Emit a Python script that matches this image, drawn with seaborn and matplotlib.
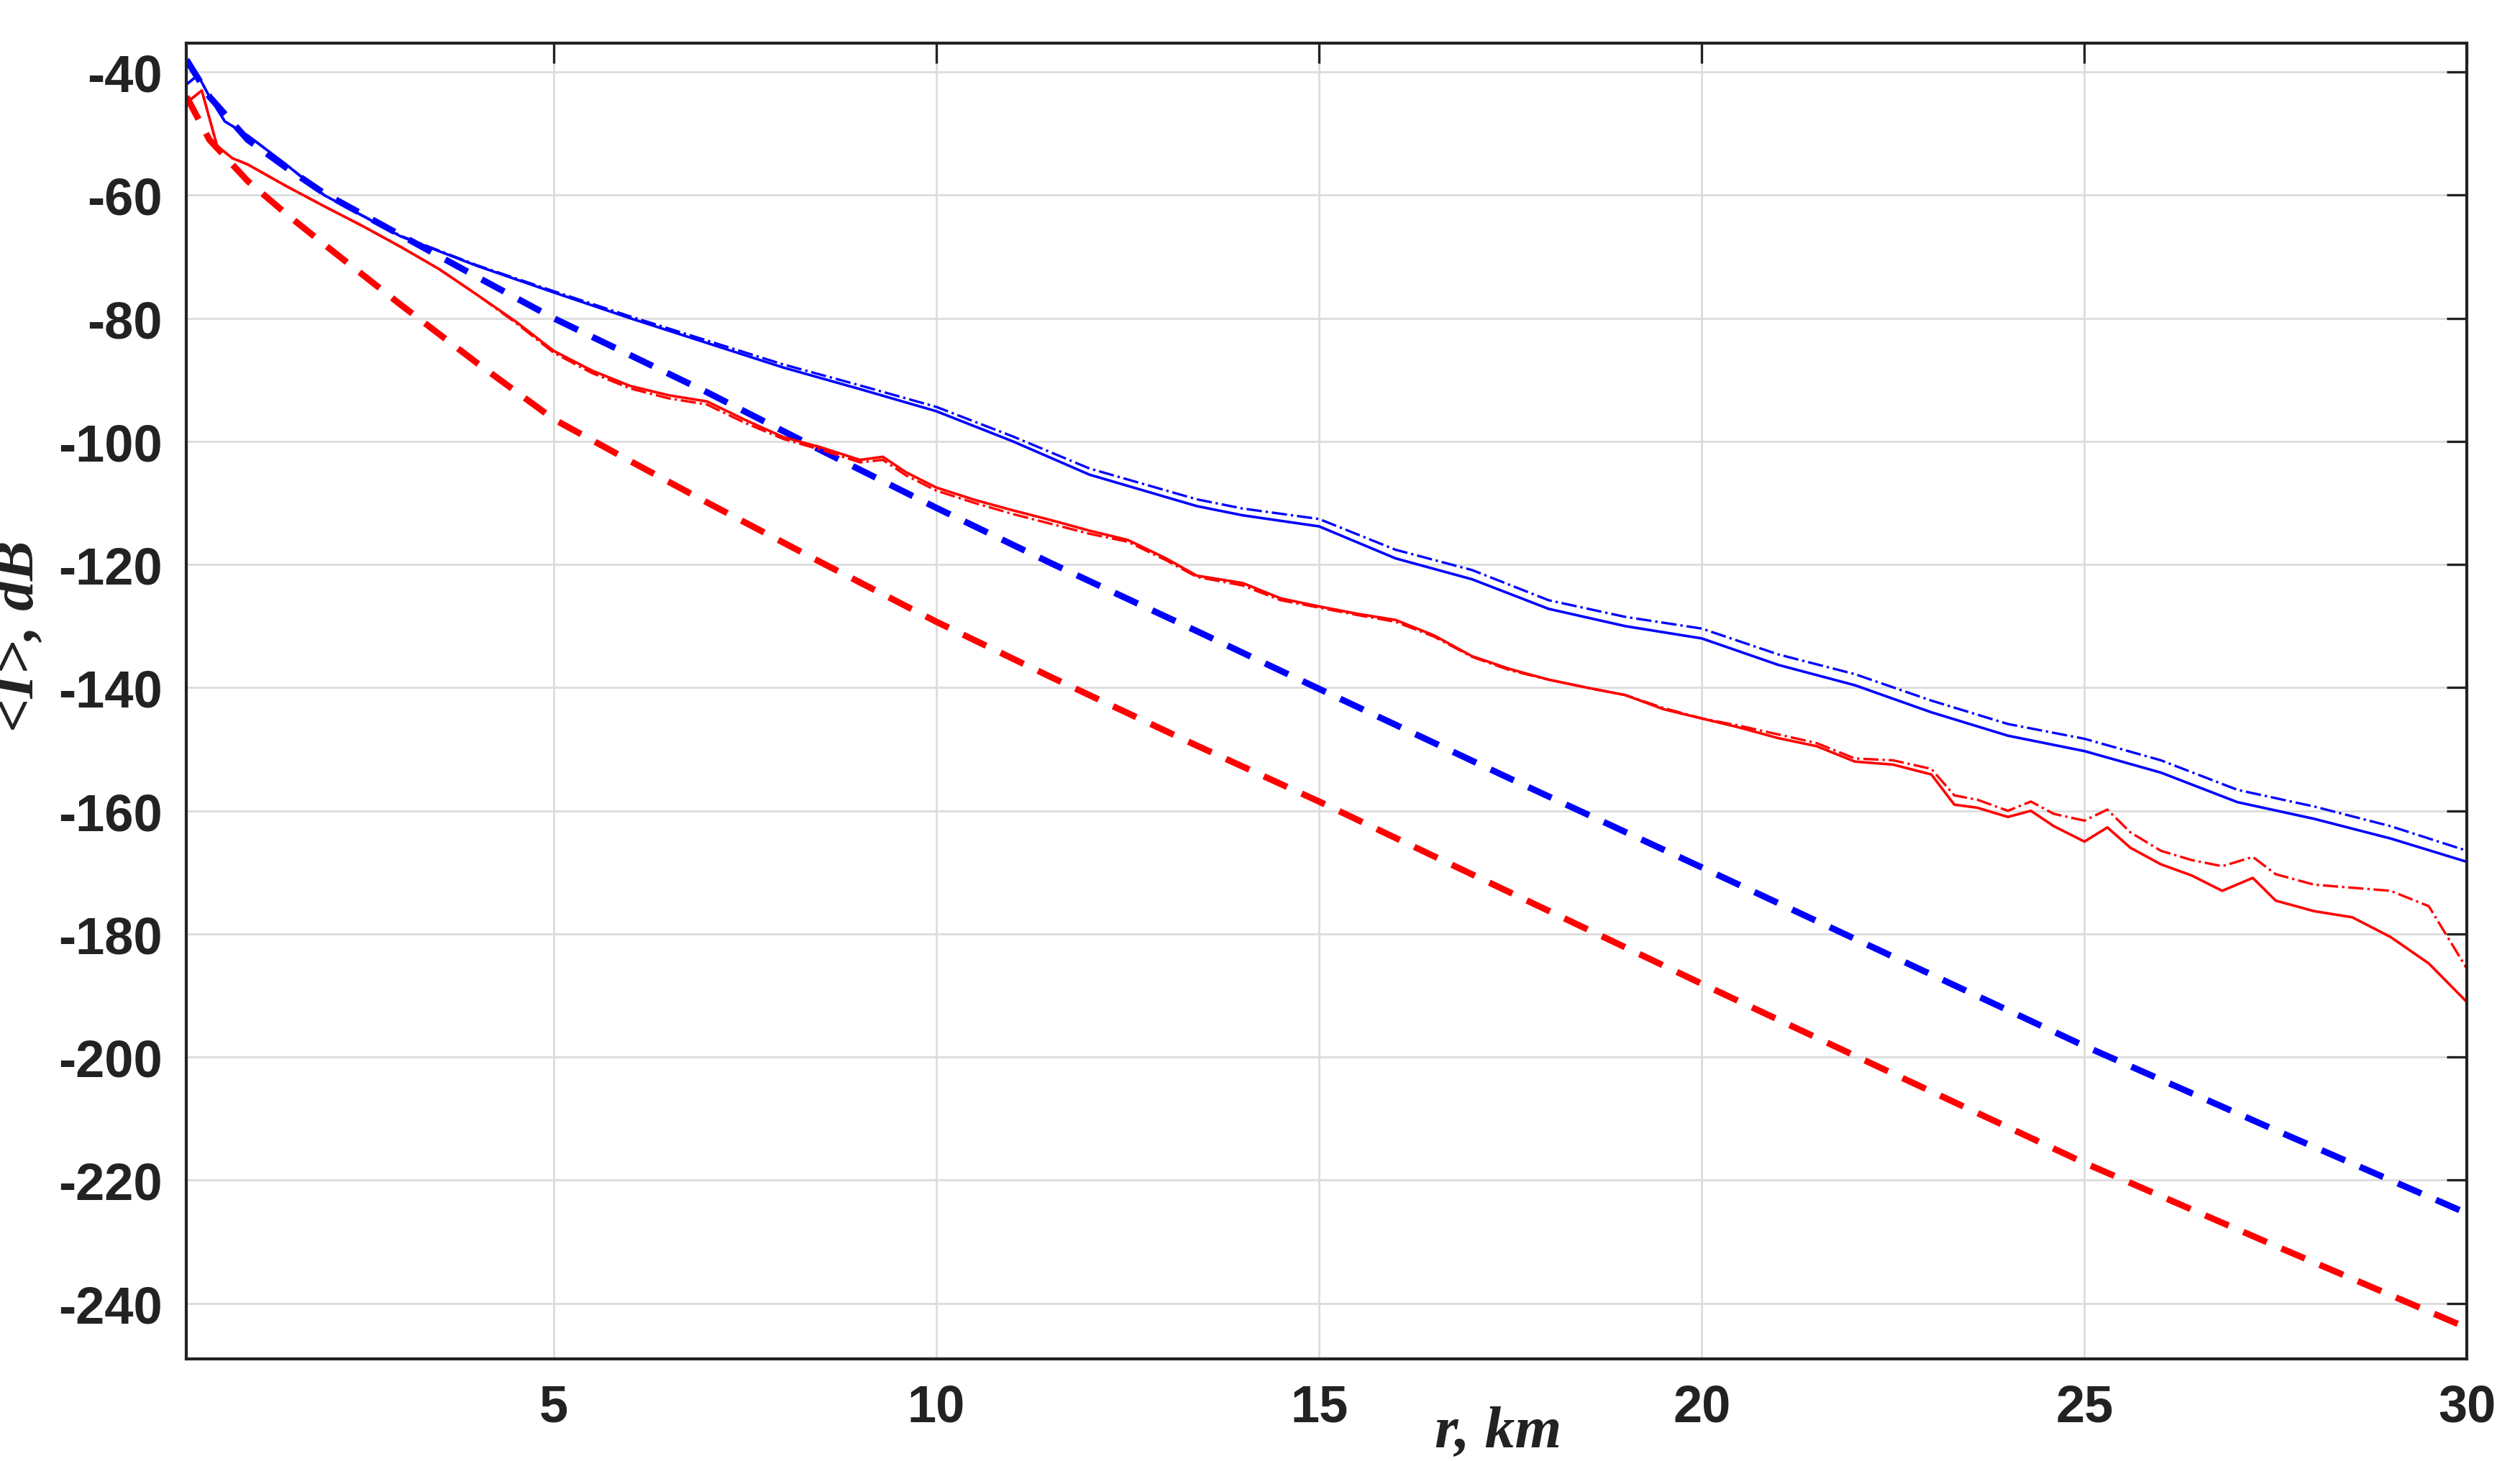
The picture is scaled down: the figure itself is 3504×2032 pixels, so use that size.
import numpy as np
import pandas as pd
import matplotlib
matplotlib.use("Agg")
import matplotlib.pyplot as plt
import seaborn as sns

sns.set_style("white")
plt.rcParams["axes.unicode_minus"] = False

# dashed reference curves
r_dash = [0.2, 0.5, 1, 1.5, 2, 3, 4, 5, 6, 7, 8.5, 10, 11.5, 13.4, 15, 17.5, 20, 22.5, 25, 27.5, 30]
blue_dash = [-38, -44, -51, -55.5, -59.7, -66.5, -73.3, -80, -86, -92, -101.5, -110.8, -119.8,
             -130.8, -140.2, -154.8, -169.2, -183.7, -198.2, -211.9, -225.4]
red_dash = [-44, -51, -57.7, -63, -68, -77.8, -87.3, -96.4, -103.2, -109.9, -119.7, -129.3,
            -138.3, -149.4, -158.5, -173.3, -188.1, -202.7, -217.2, -230.7, -244]

# blue solid / dash-dot
r_blue = [0.2, 0.35, 0.5, 0.7, 1, 1.5, 2, 3, 4, 5, 6, 7, 8, 9, 10, 11, 12, 13.4, 14, 15,
          16, 17, 18, 19, 20, 21, 22, 23, 24, 25, 26, 27, 28, 29, 30]
blue_solid = [-42, -40.5, -44, -48, -50.3, -55, -60, -66.7, -71.5, -75.8, -80, -84, -88, -91.5,
              -95.1, -100, -105.4, -110.5, -112, -113.8, -119, -122.4, -127.2, -130, -132,
              -136.3, -139.6, -144, -147.8, -150.3, -153.8, -158.6, -161.3, -164.5, -168.3]
blue_dashdot = [-42, -40.5, -44, -48, -50.3, -55, -60, -66.6, -71.4, -75.6, -79.7, -83.6, -87.5, -90.9,
                -94.4, -99.2, -104.4, -109.4, -110.9, -112.6, -117.6, -120.9, -125.8, -128.5, -130.4,
                -134.6, -137.8, -142.1, -145.9, -148.3, -151.8, -156.6, -159.3, -162.5, -166.5]

# red solid / dash-dot
r_red = [0.2, 0.4, 0.6, 0.8, 1, 1.5, 2, 2.5, 3, 3.5, 4, 4.5, 5, 5.5, 6, 6.5, 7, 7.5, 8, 8.5, 9, 9.3,
         9.6, 10, 10.5, 11, 11.5, 12, 12.5, 13, 13.4, 14, 14.5, 15, 15.5, 16, 16.5, 17, 17.5, 18,
         18.5, 19, 19.5, 20, 20.5, 21, 21.5, 22, 22.5, 23, 23.3, 23.6, 24, 24.3, 24.6, 25, 25.3,
         25.6, 26, 26.4, 26.8, 27.2, 27.5, 28, 28.5, 29, 29.5, 30]
red_solid = [-45, -43, -52, -54, -55, -58.5, -61.8, -65, -68.4, -72, -76.2, -80.5, -85.3, -88.5,
             -91, -92.5, -93.5, -96.5, -99.3, -101, -103, -102.5, -105, -107.5, -109.5, -111.2,
             -112.8, -114.5, -116, -119, -121.8, -123, -125.5, -126.8, -128, -129, -131.5, -134.9,
             -137, -138.7, -140, -141.2, -143.5, -145, -146.5, -148.2, -149.5, -152, -152.5, -154.1,
             -159, -159.5, -161, -160, -162.5, -165, -162.7, -166, -168.7, -170.5, -173, -170.9,
             -174.6, -176.3, -177.3, -180.5, -184.8, -191.1]
red_dashdot = [-45, -43, -52, -54, -55, -58.5, -61.8, -65, -68.4, -72, -76.2, -80.7, -85.6, -88.9,
               -91.4, -93, -94, -97, -99.6, -101.4, -103.4, -103, -105.5, -108, -110, -111.8,
               -113.4, -115, -116.3, -119.3, -122, -123.4, -125.8, -127, -128.2, -129.3, -131.7,
               -135, -137.2, -138.7, -140, -141.2, -143.3, -145, -146.2, -147.6, -149, -151.5,
               -151.8, -153.2, -157.5, -158.2, -160, -158.5, -160.5, -161.6, -159.8, -163.5,
               -166.5, -168, -169, -167.5, -170.3, -172, -172.5, -173, -175.5, -185.7]

fig = plt.figure(figsize=(17.52, 10.165), dpi=200)
ax = fig.add_axes([0.074, 0.07, 0.905, 0.9])

sns.lineplot(x=r_dash, y=blue_dash, ax=ax, color="#0000ff", lw=3.2, linestyle=(0, (4, 2.5)))
sns.lineplot(x=r_dash, y=red_dash, ax=ax, color="#ff0000", lw=3.2, linestyle=(0, (4, 2.5)))
sns.lineplot(x=r_blue, y=blue_dashdot, ax=ax, color="#0000ff", lw=1.2, linestyle="-.")
sns.lineplot(x=r_blue, y=blue_solid, ax=ax, color="#0000ff", lw=1.3)
sns.lineplot(x=r_red, y=red_dashdot, ax=ax, color="#ff0000", lw=1.2, linestyle="-.")
sns.lineplot(x=r_red, y=red_solid, ax=ax, color="#ff0000", lw=1.3)

ax.set_xlim(0.2, 30)
ax.set_ylim(-249, -35.3)
ax.set_xticks([5, 10, 15, 20, 25, 30])
ax.set_yticks(np.arange(-240, -39, 20))
ax.grid(True, color="#dcdcdc", lw=1.0)
for s in ax.spines.values():
    s.set_color("#222222")
    s.set_linewidth(1.5)
ax.tick_params(direction="in", length=10, width=1.2, top=True, right=True,
               labelsize=26, pad=12, colors="#222222")
for lab in ax.get_xticklabels() + ax.get_yticklabels():
    lab.set_fontweight("bold")
    lab.set_family(["Liberation Sans Narrow", "Liberation Sans", "DejaVu Sans"])
ax.set_xlabel("r, km", fontsize=30, fontstyle="italic", fontweight="bold",
              family=["Liberation Serif", "DejaVu Serif"], color="#222222")
ax.xaxis.set_label_coords(0.575, -0.035)
ax.set_ylabel("<I>, dB", fontsize=30, fontstyle="italic", fontweight="bold",
              family=["Liberation Serif", "DejaVu Serif"], color="#222222")
ax.yaxis.set_label_coords(-0.062, 0.55)

fig.savefig("out.png", dpi=200)
